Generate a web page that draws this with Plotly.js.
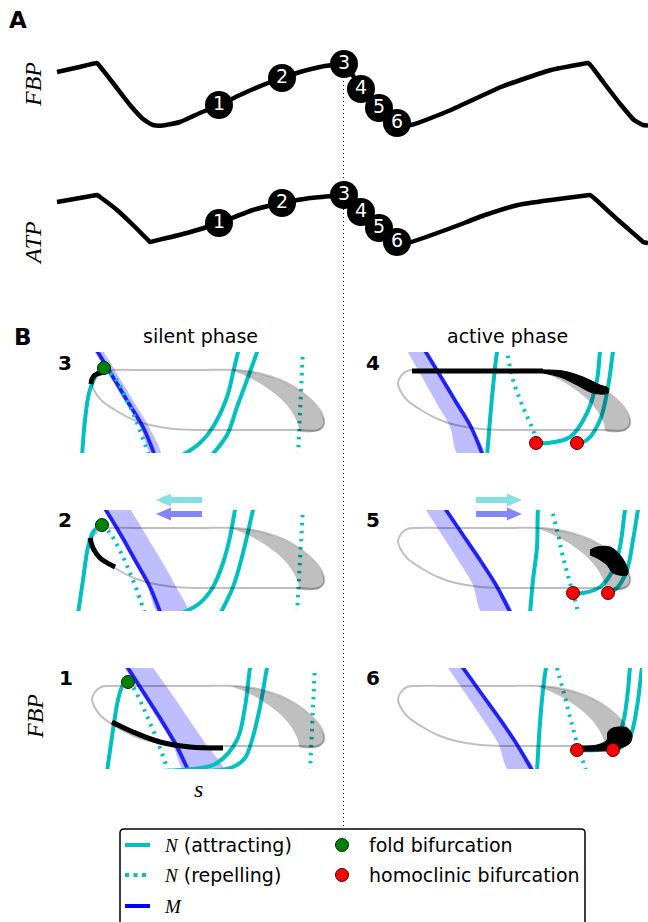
<!DOCTYPE html>
<html><head><meta charset="utf-8">
<script src="https://cdn.plot.ly/plotly-3.0.1.min.js"></script>
<style>body{margin:0;background:#fff}</style>
</head><body><div id="chart" style="width:648px;height:922px"></div>
<script>
// ---------- Panel A: time series ----------
const T_FBP = [57, 75, 94, 97, 100, 113, 130, 143, 153, 163, 180, 200, 219, 240, 263, 282, 300, 320, 338, 344, 348, 361, 379, 390, 397, 405, 413, 451, 501, 551, 582, 588, 592, 604, 621, 634, 643, 648];
const FBP   = [68, 72, 76.5, 77, 73.5, 57, 35, 21, 15, 14.5, 18, 27, 35, 45, 55, 62, 68, 73, 76, 77, 73, 51, 32, 21, 17, 15, 15.5, 30, 53, 70, 76, 77, 73, 57, 35, 20, 15, 14.5];
const T_ATP = [57, 94, 97, 100, 117, 133, 148, 150, 154, 187, 219, 253, 282, 310, 338, 344, 348, 361, 379, 397, 405, 411, 451, 485, 518, 551, 586, 590, 594, 618, 641, 643, 648];
const ATP   = [58, 64.5, 65, 63, 50, 35, 20, 18, 19, 27, 37, 50, 57, 62, 64.5, 65, 62, 48, 32, 18, 17, 18, 32, 45, 55, 60, 64.5, 65, 62, 40, 20, 18, 17];
const MARK_LABELS = ['1','2','3','4','5','6'];
const MARK_T   = [219, 282, 344, 361, 379, 397];
const MARK_FBP = [35, 62, 76, 51, 32, 17];
const MARK_ATP = [37, 57, 65, 48, 32, 18];

// ---------- Panel B: phase plane (s, FBP) ----------
const LEVELS = [103, 75, 50, 25, -4];   // FBP levels where M and its band are sampled
const ORBIT = [[111,82],[150,82],[200,82],[237,82],[262,78],[285,70],[303,59],[316,47],[323,36],[324,28],[318,22],[300,22],[250,22],[200,22],[174,23],[150,27],[134,32],[115,42],[101,52],[94,62],[92,69],[95,76],[101,81],[111,82]];
const SPIKES = [[233,82],[250,80],[267,76],[285,69],[300,60],[312,50],[320,40],[324,32],[323,25],[318,21],[300,21],[298,28],[292,40],[282,52],[267,64],[250,74],[233,81]];

// panel 3 (silent)
const M3 = [96,113,128,143,155], M3_LO = [93,110,125,140,152], M3_HI = [102,119,134,149,161];
const P3_ATTR = [[82,-4],[85,32],[89,59],[95,75],[100,82],[104,84]];
const P3_REP  = [[104,84],[115,74],[127,52],[137,29],[148,-1],[149,-4]];
const P3_U1   = [[181,-4],[200,9],[213,25],[227,55],[233,79],[238,100],[239,104]];
const P3_U2   = [[211,-4],[227,17],[237,45],[247,72],[257,100],[258,104]];
const P3_VREP = [[303,103],[298,-4]];
const P3_TRAJ = [[91,68],[92,73],[95,77],[100,79],[104,80]];
const P3_FOLD = [[104,84]];
// panel 2 (silent)
const M2 = [104,121,135,149,161], M2_LO = [102,119,133,147,159], M2_HI = [129,146,161,175,188];
const P2_ATTR = [[78,-4],[83,30],[88,63],[93,78],[98,83],[102,85]];
const P2_REP  = [[102,85],[110,77],[123,53],[133,30],[143,2],[145,-4]];
const P2_U1   = [[180,-4],[200,7],[213,23],[223,47],[230,73],[235,100],[236,104]];
const P2_U2   = [[220,-4],[233,23],[243,57],[253,100],[254,104]];
const P2_VREP = [[303,103],[297,-4]];
const P2_TRAJ = [[90,72],[93,62],[100,52],[115,43]];
const P2_FOLD = [[102,85]];
// panel 1 (silent)
const M1 = [126,144,160,175,189], M1_LO = [123,141,157,172,186], M1_HI = [151,171,188,205,224];
const P1_ATTR = [[107,-4],[113,38],[118,68],[123,83],[128,86]];
const P1_REP  = [[128,86],[133,81],[143,61],[157,28],[167,0],[168,-4]];
const P1_U1   = [[160,-3],[200,0],[217,5],[237,28],[245,61],[250,100],[251,104]];
const P1_U2   = [[210,-3],[233,1],[245,10],[252,28],[260,61],[267,100],[268,104]];
const P1_VREP = [[315,103],[310,-4]];
const P1_TRAJ = [[112,46],[133,36],[160,26],[190,21],[223,20]];
const P1_FOLD = [[128,86]];
// panel 4 (active)
const M4 = [118,135,150,165,177], M4_LO = [100,116,130,144,153], M4_HI = [119,136,151,166,178];
const P4_ATTR = [[181,-4],[184,32],[187,65],[191,100],[192,104]];
const P4_REP  = [[200,104],[201,100],[207,72],[217,45],[227,22],[234,-1],[235,-4]];
const P4_U1   = [[230,9],[241,9],[264,15],[281,39],[291,72],[294,100],[295,104]];
const P4_U2   = [[271,9],[281,12],[294,32],[302,65],[307,100],[308,104]];
const P4_TRAJ = [[106,81],[237,81]];
const P4_BLOB = [[237,82],[257,81],[277,75],[294,67],[302,64],[302,59],[287,59],[271,67],[254,75],[237,79]];
const P4_HOMO = [[230,9],[271,9]];
// panel 5 (active)
const M5 = [138,157,174,190,205], M5_LO = [118,136,152,167,177], M5_HI = [139,158,175,191,206];
const P5_ATTR = [[224,-4],[227,30],[231,63],[232,100],[233,104]];
const P5_REP  = [[245,104],[246,100],[251,80],[257,53],[264,27],[271,2],[272,-4]];
const P5_U1   = [[267,17],[277,17],[294,23],[307,40],[314,63],[319,100],[320,104]];
const P5_U2   = [[302,17],[311,22],[321,40],[327,70],[332,100],[333,104]];
const P5_BLOB = [[284,60],[291,63],[304,63],[314,55],[322,40],[321,35],[307,37],[301,45],[291,52],[284,55]];
const P5_HOMO = [[267,17],[302,17]];
// panel 6 (active)
const M6 = [155,175,193,210,227], M6_LO = [140,159,176,192,204], M6_HI = [156,176,194,211,228];
const P6_ATTR = [[231,-4],[234,45],[237,78],[240,100],[241,104]];
const P6_REP  = [[251,100],[252,96],[257,78],[264,51],[271,25],[279,0],[280,-4]];
const P6_U1   = [[271,18],[291,18],[307,21],[317,45],[322,78],[324,100],[325,104]];
const P6_U2   = [[307,18],[314,20],[324,31],[331,61],[336,100],[337,104]];
const P6_BLOB = [[267,22],[291,23],[301,28],[302,36],[307,40],[321,40],[326,33],[324,25],[317,21],[307,18],[291,17],[267,17]];
const P6_HOMO = [[271,18],[307,18]];

// ---------- drawing ----------
const W = 648, H = 922;
const P = x => x / W, Q = y => 1 - y / H;
const CYAN = '#00bfbf';
const SANS = 'DejaVu Sans', SERIF = 'Liberation Serif';
const traces = [];

function T(pts, ax, extra) {
  const s = ax === 1 ? '' : String(ax);
  return Object.assign({type:'scatter', mode:'lines', x:pts.map(p=>p[0]), y:pts.map(p=>p[1]),
    xaxis:'x'+s, yaxis:'y'+s, hoverinfo:'skip', showlegend:false}, extra);
}

function panel(ax, M, lo, hi, attr, rep, u1, u2, vrep, traj, blob, fold, homo) {
  const band = lo.map((v,i)=>[v,LEVELS[i]]).concat(hi.map((v,i)=>[v,LEVELS[i]]).reverse());
  traces.push(T(band, ax, {fill:'toself', fillcolor:'rgba(0,0,255,0.26)', line:{width:0, shape:'spline'}}));
  traces.push(T(M.map((v,i)=>[v,LEVELS[i]]), ax, {line:{color:'#2020ff', width:3.8, shape:'spline'}}));
  [attr,u1,u2].forEach(p=>traces.push(T(p, ax, {line:{color:CYAN, width:4, shape:'spline'}})));
  [rep,vrep].filter(Boolean).forEach(p=>traces.push(T(p, ax, {line:{color:CYAN, width:4, dash:'2.5px,5.5px', shape:'spline'}})));
  traces.push(T(ORBIT, ax, {line:{color:'rgba(0,0,0,0.25)', width:2, shape:'spline'}}));
  traces.push(T(SPIKES, ax, {fill:'toself', fillcolor:'rgba(0,0,0,0.25)', line:{width:0, shape:'spline'}}));
  if (traj) traces.push(T(traj, ax, {line:{color:'black', width:5, shape:'spline'}}));
  if (blob) traces.push(T(blob, ax, {fill:'toself', fillcolor:'black', line:{color:'black', width:1, shape:'spline'}}));
  if (fold) traces.push(T(fold, ax, {mode:'markers', cliponaxis:false, marker:{size:13, color:'#008000', line:{color:'#002800', width:1}}}));
  if (homo) traces.push(T(homo, ax, {mode:'markers', cliponaxis:false, marker:{size:13, color:'#ff0000', line:{color:'#500000', width:1}}}));
}

// Panel A
traces.push({type:'scatter', mode:'lines', x:T_FBP, y:FBP, xaxis:'x', yaxis:'y', hoverinfo:'skip', showlegend:false,
  line:{color:'black', width:4.5, shape:'spline', smoothing:0.5}});
traces.push({type:'scatter', mode:'markers+text', x:MARK_T, y:MARK_FBP, text:MARK_LABELS, xaxis:'x', yaxis:'y',
  textposition:'middle center', textfont:{color:'white', size:19, family:SANS}, cliponaxis:false, hoverinfo:'skip', showlegend:false,
  marker:{size:28, color:'black'}});
traces.push({type:'scatter', mode:'lines', x:T_ATP, y:ATP, xaxis:'x2', yaxis:'y2', hoverinfo:'skip', showlegend:false,
  line:{color:'black', width:4.5, shape:'spline', smoothing:0.5}});
traces.push({type:'scatter', mode:'markers+text', x:MARK_T, y:MARK_ATP, text:MARK_LABELS, xaxis:'x2', yaxis:'y2',
  textposition:'middle center', textfont:{color:'white', size:19, family:SANS}, cliponaxis:false, hoverinfo:'skip', showlegend:false,
  marker:{size:28, color:'black'}});

// Panel B
panel(3, M3, M3_LO, M3_HI, P3_ATTR, P3_REP, P3_U1, P3_U2, P3_VREP, P3_TRAJ, null, P3_FOLD, null);
panel(4, M4, M4_LO, M4_HI, P4_ATTR, P4_REP, P4_U1, P4_U2, null, P4_TRAJ, P4_BLOB, null, P4_HOMO);
panel(5, M2, M2_LO, M2_HI, P2_ATTR, P2_REP, P2_U1, P2_U2, P2_VREP, P2_TRAJ, null, P2_FOLD, null);
panel(6, M5, M5_LO, M5_HI, P5_ATTR, P5_REP, P5_U1, P5_U2, null, null, P5_BLOB, null, P5_HOMO);
panel(7, M1, M1_LO, M1_HI, P1_ATTR, P1_REP, P1_U1, P1_U2, P1_VREP, P1_TRAJ, null, P1_FOLD, null);
panel(8, M6, M6_LO, M6_HI, P6_ATTR, P6_REP, P6_U1, P6_U2, null, null, P6_BLOB, null, P6_HOMO);

// ---------- layout ----------
const hidden = {visible:false, fixedrange:true, showgrid:false, zeroline:false};
const xd = (a,b)=>[P(a),P(b)], yd = (a,b)=>[Q(b),Q(a)];
const layout = {
  width:W, height:H, margin:{l:0,r:0,t:0,b:0}, paper_bgcolor:'white', plot_bgcolor:'rgba(0,0,0,0)',
  showlegend:false, font:{family:SANS, color:'black'},
  xaxis: Object.assign({domain:[0,1], range:[0,648], anchor:'y'}, hidden),
  yaxis: Object.assign({domain:yd(45,140), range:[0,95], anchor:'x'}, hidden),
  xaxis2: Object.assign({domain:[0,1], range:[0,648], anchor:'y2'}, hidden),
  yaxis2: Object.assign({domain:yd(172,262), range:[-2,88], anchor:'x2'}, hidden),
};
const GRID = [
  [3, [65,330], [65,330], [352,453]],
  [4, [371,642], [65,336], [352,453]],
  [5, [65,330], [65,330], [510,611]],
  [6, [371,642], [65,336], [510,611]],
  [7, [65,330], [65,330], [668,769]],
  [8, [371,642], [65,336], [668,769]],
];
GRID.forEach(([k, xpx, xr, ypx]) => {
  layout['xaxis'+k] = Object.assign({domain:xd(xpx[0],xpx[1]), range:xr, anchor:'y'+k}, hidden);
  layout['yaxis'+k] = Object.assign({domain:yd(ypx[0],ypx[1]), range:[-1,100], anchor:'x'+k}, hidden);
});

function arrow(tail, tip, y, color) {
  const d = tip > tail ? 1 : -1, hb = tip - d*15;
  const pts = [[tail,y-3],[hb,y-3],[hb,y-6.5],[tip,y],[hb,y+6.5],[hb,y+3],[tail,y+3]];
  return {type:'path', xref:'paper', yref:'paper', fillcolor:color, line:{width:0},
    path:'M' + pts.map(p=>P(p[0])+','+Q(p[1])).join(' L') + ' Z'};
}
const seg = (x0,y0,x1,y1,line)=>({type:'line', xref:'paper', yref:'paper', x0:P(x0), y0:Q(y0), x1:P(x1), y1:Q(y1), line});
const dot = (cx,cy,r,fill,edge)=>({type:'circle', xref:'paper', yref:'paper', x0:P(cx-r), x1:P(cx+r), y0:Q(cy+r), y1:Q(cy-r), fillcolor:fill, line:{color:edge, width:1}});

layout.shapes = [
  seg(343.5, 73, 343.5, 826, {color:'black', width:1, dash:'1px,3px'}),
  arrow(202, 156, 500, 'rgba(0,191,191,0.48)'),
  arrow(202, 156, 514, 'rgba(0,0,255,0.48)'),
  arrow(476, 522, 500, 'rgba(0,191,191,0.48)'),
  arrow(476, 522, 514, 'rgba(0,0,255,0.48)'),
  {type:'path', xref:'paper', yref:'paper', line:{color:'black', width:1.5},
   path:`M${P(120)},${Q(940)} L${P(120)},${Q(833)} Q${P(120)},${Q(829)} ${P(124)},${Q(829)} L${P(581)},${Q(829)} Q${P(585)},${Q(829)} ${P(585)},${Q(833)} L${P(585)},${Q(940)}`},
  seg(125, 845, 150, 845, {color:CYAN, width:4}),
  seg(125, 875, 150, 875, {color:CYAN, width:4, dash:'4px,4.5px'}),
  seg(125, 906, 150, 906, {color:'#0000ff', width:4}),
  dot(342, 845, 6.5, '#008000', '#002800'),
  dot(342, 875, 6.5, '#ff0000', '#500000'),
];

const ann = (text, x, y, size, extra) => Object.assign({text, x:P(x), y:Q(y), xref:'paper', yref:'paper', showarrow:false,
  xanchor:'center', yanchor:'middle', font:{size, family:SANS, color:'black'}}, extra||{});
const serif = (text, x, y, size, extra) => ann('<i>'+text+'</i>', x, y, size, Object.assign({font:{size, family:SERIF, color:'black'}}, extra||{}));
const mathN = s => `<span style="font-family:'${SERIF}'"><i>${s}</i></span>`;

layout.annotations = [
  ann('<b>A</b>', 18, 20, 23),
  ann('<b>B</b>', 23, 337, 23),
  serif('FBP', 33, 85, 24, {textangle:-90}),
  serif('ATP', 33, 243, 24, {textangle:-90}),
  serif('FBP', 35, 717, 24, {textangle:-90}),
  serif('s', 199, 789, 24),
  ann('silent phase', 200, 336, 19),
  ann('active phase', 507, 336, 19),
  ann('<b>3</b>', 65, 363, 20), ann('<b>2</b>', 65, 520, 20), ann('<b>1</b>', 66, 678, 20),
  ann('<b>4</b>', 373, 363, 20), ann('<b>5</b>', 373, 520, 20), ann('<b>6</b>', 373, 678, 20),
  ann(mathN('N') + ' (attracting)', 162, 845, 19, {xanchor:'left'}),
  ann(mathN('N') + ' (repelling)', 162, 875, 19, {xanchor:'left'}),
  ann(mathN('M'), 162, 906, 19, {xanchor:'left'}),
  ann('fold bifurcation', 367, 845, 19, {xanchor:'left'}),
  ann('homoclinic bifurcation', 367, 875, 19, {xanchor:'left'}),
];

Plotly.newPlot('chart', traces, layout, {staticPlot:true, displayModeBar:false});
</script></body></html>
